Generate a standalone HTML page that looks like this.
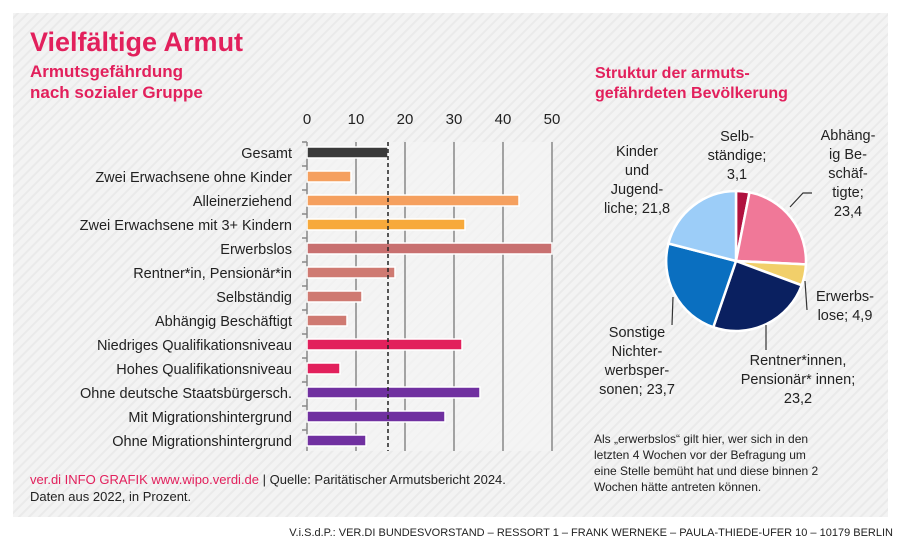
<!DOCTYPE html>
<html><head><meta charset="utf-8"><style>
body{margin:0;width:898px;height:551px;background:#fff;overflow:hidden;font-family:"Liberation Sans",sans-serif}
</style></head><body>
<svg width="898" height="551" xmlns="http://www.w3.org/2000/svg" font-family="Liberation Sans, sans-serif">
<defs><pattern id="h" width="7" height="7" patternUnits="userSpaceOnUse" patternTransform="rotate(-45)"><rect width="7" height="7" fill="#f3f3f3"/><rect width="7" height="2" fill="#eaeaea"/></pattern></defs>
<rect x="13" y="13" width="875" height="504" fill="url(#h)"/>
<rect x="307" y="142" width="246" height="309" fill="#f4f4f4" opacity="0.7"/>
<text x="30" y="51" font-size="27" font-weight="bold" fill="#e2205c">Vielfältige Armut</text>
<text x="30" y="77" font-size="17" font-weight="bold" fill="#e2205c">Armutsgefährdung</text>
<text x="30" y="98" font-size="17" font-weight="bold" fill="#e2205c">nach sozialer Gruppe</text>
<text x="595" y="78" font-size="16" font-weight="bold" fill="#e2205c">Struktur der armuts-</text>
<text x="595" y="98" font-size="16" font-weight="bold" fill="#e2205c">gefährdeten Bevölkerung</text>
<g font-size="15" fill="#222" text-anchor="middle">
<text x="307" y="124">0</text><text x="356" y="124">10</text><text x="405" y="124">20</text><text x="454" y="124">30</text><text x="503" y="124">40</text><text x="552" y="124">50</text>
</g>
<g stroke="#888" stroke-width="1.5">
<line x1="307" y1="142" x2="307" y2="451"/><line x1="356" y1="142" x2="356" y2="451"/><line x1="405" y1="142" x2="405" y2="451"/><line x1="454" y1="142" x2="454" y2="451"/><line x1="503" y1="142" x2="503" y2="451"/><line x1="552" y1="142" x2="552" y2="451"/>
<line x1="302" y1="142" x2="307" y2="142"/><line x1="302" y1="166" x2="307" y2="166"/><line x1="302" y1="190" x2="307" y2="190"/><line x1="302" y1="214" x2="307" y2="214"/><line x1="302" y1="238" x2="307" y2="238"/><line x1="302" y1="262" x2="307" y2="262"/><line x1="302" y1="286" x2="307" y2="286"/><line x1="302" y1="310" x2="307" y2="310"/><line x1="302" y1="334" x2="307" y2="334"/><line x1="302" y1="358" x2="307" y2="358"/><line x1="302" y1="382" x2="307" y2="382"/><line x1="302" y1="406" x2="307" y2="406"/><line x1="302" y1="430" x2="307" y2="430"/>
</g>
<g stroke="#fff" stroke-width="1.5">
<rect x="307" y="147" width="81" height="11" fill="#3a3a3a"/>
<rect x="307" y="171" width="44" height="11" fill="#f5a05f"/>
<rect x="307" y="195" width="212" height="11" fill="#f5a05f"/>
<rect x="307" y="219" width="158" height="11" fill="#f7a93b"/>
<rect x="307" y="243" width="245" height="11" fill="#c87070"/>
<rect x="307" y="267" width="88" height="11" fill="#cf7a72"/>
<rect x="307" y="291" width="55" height="11" fill="#cf7a72"/>
<rect x="307" y="315" width="40" height="11" fill="#cf7a72"/>
<rect x="307" y="339" width="155" height="11" fill="#e2205c"/>
<rect x="307" y="363" width="33" height="11" fill="#e2205c"/>
<rect x="307" y="387" width="173" height="11" fill="#7030a0"/>
<rect x="307" y="411" width="138" height="11" fill="#7030a0"/>
<rect x="307" y="435" width="59" height="11" fill="#7030a0"/>
</g>
<line x1="388" y1="142" x2="388" y2="451" stroke="#222" stroke-width="1.5" stroke-dasharray="4,3"/>
<g font-size="14.5" fill="#222" text-anchor="end">
<text x="292" y="158">Gesamt</text>
<text x="292" y="182">Zwei Erwachsene ohne Kinder</text>
<text x="292" y="206">Alleinerziehend</text>
<text x="292" y="230">Zwei Erwachsene mit 3+ Kindern</text>
<text x="292" y="254">Erwerbslos</text>
<text x="292" y="278">Rentner*in, Pensionär*in</text>
<text x="292" y="302">Selbständig</text>
<text x="292" y="326">Abhängig Beschäftigt</text>
<text x="292" y="350">Niedriges Qualifikationsniveau</text>
<text x="292" y="374">Hohes Qualifikationsniveau</text>
<text x="292" y="398">Ohne deutsche Staatsbürgersch.</text>
<text x="292" y="422">Mit Migrationshintergrund</text>
<text x="292" y="446">Ohne Migrationshintergrund</text>
</g>
<text x="30" y="484" font-size="13" fill="#222"><tspan fill="#e2205c">ver.di INFO GRAFIK www.wipo.verdi.de</tspan> | Quelle: Paritätischer Armutsbericht 2024.</text>
<text x="30" y="501" font-size="13" fill="#222">Daten aus 2022, in Prozent.</text>
<g stroke="#fff" stroke-width="2.5">
<path d="M736,261 L736,191 A70,70 0 0 1 749.5,192.3 Z" fill="#b0113f"/>
<path d="M736,261 L749.5,192.3 A70,70 0 0 1 805.9,264.4 Z" fill="#f07898"/>
<path d="M736,261 L805.9,264.4 A70,70 0 0 1 801.7,285.3 Z" fill="#f1cf6a"/>
<path d="M736,261 L801.7,285.3 A70,70 0 0 1 713.3,327.2 Z" fill="#0a2060"/>
<path d="M736,261 L713.3,327.2 A70,70 0 0 1 668.4,243.5 Z" fill="#0a6fc0"/>
<path d="M736,261 L668.4,243.5 A70,70 0 0 1 736,191 Z" fill="#9ccdf8"/>
</g>
<g stroke="#333" stroke-width="1.2" fill="none">
<polyline points="790,207 803,193 812,193"/>
<line x1="805" y1="281" x2="807" y2="310"/>
<line x1="766" y1="325" x2="766" y2="350"/>
<line x1="673" y1="297" x2="672" y2="325"/>
</g>
<g font-size="14.5" fill="#222" text-anchor="middle">
<text x="737" y="141">Selb-</text><text x="737" y="160">ständige;</text><text x="737" y="179">3,1</text>
<text x="637" y="156">Kinder</text><text x="637" y="175">und</text><text x="637" y="194">Jugend-</text><text x="637" y="213">liche; 21,8</text>
<text x="848" y="140">Abhäng-</text><text x="848" y="159">ig Be-</text><text x="848" y="178">schäf-</text><text x="848" y="197">tigte;</text><text x="848" y="216">23,4</text>
<text x="845" y="301">Erwerbs-</text><text x="845" y="320">lose; 4,9</text>
<text x="798" y="365">Rentner*innen,</text><text x="798" y="384">Pensionär* innen;</text><text x="798" y="403">23,2</text>
<text x="637" y="337">Sonstige</text><text x="637" y="356">Nichter-</text><text x="637" y="375">werbsper-</text><text x="637" y="394">sonen; 23,7</text>
</g>
<g font-size="12" fill="#222">
<text x="594" y="443">Als „erwerbslos“ gilt hier, wer sich in den</text>
<text x="594" y="459">letzten 4 Wochen vor der Befragung um</text>
<text x="594" y="475">eine Stelle bemüht hat und diese binnen 2</text>
<text x="594" y="491">Wochen hätte antreten können.</text>
</g>
<text x="893" y="536" font-size="11" fill="#222" text-anchor="end">V.i.S.d.P.: VER.DI BUNDESVORSTAND – RESSORT 1 – FRANK WERNEKE – PAULA-THIEDE-UFER 10 – 10179 BERLIN</text>
</svg>
</body></html>
